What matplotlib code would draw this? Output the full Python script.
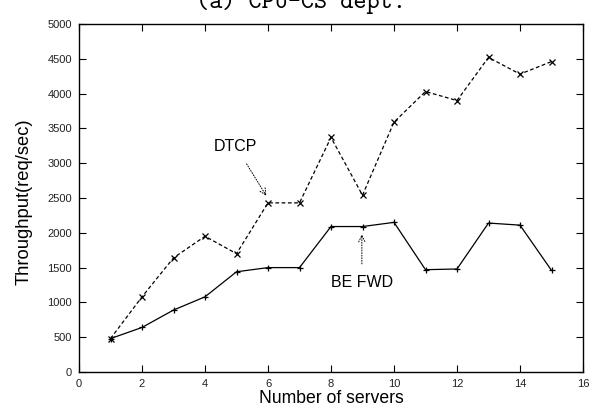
import matplotlib.pyplot as plt

# data
servers = [1, 2, 3, 4, 5, 6, 7, 8, 9, 10, 11, 12, 13, 14, 15]
dtcp = [480, 1080, 1640, 1950, 1700, 2430, 2430, 3370, 2540, 3590, 4030, 3900, 4520, 4280, 4460]
be_fwd = [480, 640, 890, 1080, 1440, 1500, 1500, 2090, 2090, 2150, 1470, 1480, 2140, 2110, 1460]
x_ticks = list(range(0, 17, 2))
y_ticks = list(range(0, 5001, 500))

plt.rcParams['font.family'] = ['Liberation Sans', 'DejaVu Sans']

fig = plt.figure(figsize=(5.97, 4.13), dpi=100)
ax = fig.add_axes([79 / 597, 1 - 372 / 413, 504 / 597, 348 / 413])

ax.plot(servers, dtcp, color='black', lw=0.9, ls=(0, (3, 2)), marker='x', ms=5, mew=0.9)
ax.plot(servers, be_fwd, color='black', lw=0.9, marker='+', ms=5, mew=0.9)

ax.annotate('DTCP', xy=(5.97, 2514), xytext=(4.98, 3132), fontsize=11.5,
            ha='center', va='bottom',
            arrowprops=dict(arrowstyle='->', color='black', lw=0.7, ls=':',
                            shrinkA=6, shrinkB=1))
ax.annotate('BE FWD', xy=(8.98, 1997), xytext=(8.98, 1394), fontsize=11.5,
            ha='center', va='top',
            arrowprops=dict(arrowstyle='->', color='black', lw=0.7, ls=':',
                            shrinkA=6, shrinkB=1))

ax.set_xlim(0, 16)
ax.set_ylim(0, 5000)
ax.set_xticks(x_ticks)
ax.set_yticks(y_ticks)
ax.tick_params(direction='in', top=True, right=True, labelsize=8, length=5, width=0.8,
               pad=5, labelcolor='#222222')
for s in ax.spines.values():
    s.set_linewidth(1.0)

# axis titles placed where the original has them
fig.text(331 / 597, 1 - 403 / 413, 'Number of servers', fontsize=12.7,
         ha='center', va='baseline')
fig.text(24.5 / 597, 1 - 201.5 / 413, 'Throughput(req/sec)', fontsize=13.2,
         ha='center', va='center', rotation=90)

# title, cut off at the top in the original
fig.text(301 / 597, 1 - 8 / 413, '(a) CPU-CS dept.', fontsize=18, family='cmtt10',
         ha='center', va='baseline')

fig.savefig('out.png', dpi=100)
